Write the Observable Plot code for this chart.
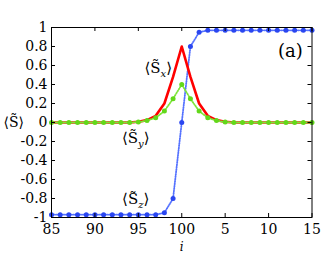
<!DOCTYPE html>
<html><head><meta charset="utf-8">
<script src="https://cdn.jsdelivr.net/npm/d3@7"></script>
<script src="https://cdn.jsdelivr.net/npm/@observablehq/plot@0.6"></script>
<style>body{margin:0;background:#fff}</style>
</head><body><div id="chart"></div>
<script>
const sites = d3.range(85, 116);
const sz = [-0.97,-0.97,-0.97,-0.97,-0.97,-0.97,-0.97,-0.97,-0.97,-0.97,-0.97,-0.97,-0.97,-0.95,-0.8,0,0.8,0.95,0.97,0.97,0.97,0.97,0.97,0.97,0.97,0.97,0.97,0.97,0.97,0.97,0.97];
const sx = [0,0,0,0,0,0,0,0,0,0,0.008,0.025,0.07,0.2,0.48,0.8,0.48,0.2,0.07,0.025,0.008,0,0,0,0,0,0,0,0,0,0];
const sy = [0,0,0,0,0,0,0,0,0,0,0.005,0.02,0.05,0.12,0.25,0.4,0.25,0.12,0.05,0.02,0.005,0,0,0,0,0,0,0,0,0,0];
const xTicks = [85, 90, 95, 100, 105, 110, 115];
const yTicks = [-1,-0.8,-0.6,-0.4,-0.2,0,0.2,0.4,0.6,0.8,1];
const labels = [
  {x: 97.3, y: 0.57, t: "⟨S̃x⟩"},
  {x: 94.7, y: -0.16, t: "⟨S̃y⟩"},
  {x: 94.7, y: -0.81, t: "⟨S̃z⟩"}
];
const panel = [{x: 112.5, y: 0.75, t: "(a)"}];

const rows = (vals) => sites.map((s, k) => ({i: s, v: vals[k]}));
const font = "DejaVu Serif";
const W = 327, H = 253, mT = 27, mB = 36, mL = 51, mR = 15.5;
const ph = H - mT - mB, pw = W - mL - mR;

const plot = Plot.plot({
  width: W, height: H,
  marginTop: mT, marginBottom: mB, marginLeft: mL, marginRight: mR,
  style: {fontSize: "14px", color: "black", background: "white", fontFamily: font},
  x: {domain: [85, 115]},
  y: {domain: [-1, 1]},
  marks: [
    Plot.line(rows(sz), {x: "i", y: "v", stroke: "#5572ff", strokeWidth: 1.8, strokeDasharray: "1,1.4"}),
    Plot.dot(rows(sz), {x: "i", y: "v", fill: "#2a46f0", r: 2.5}),
    Plot.line(rows(sx), {x: "i", y: "v", stroke: "#ff0000", strokeWidth: 2.6}),
    Plot.line(rows(sy), {x: "i", y: "v", stroke: "#7ee63a", strokeWidth: 1.8, strokeDasharray: "1,1.4"}),
    Plot.dot(rows(sy), {x: "i", y: "v", fill: "#62d81a", r: 2.5}),
    Plot.frame({stroke: "black", strokeWidth: 1}),
    Plot.tickX(xTicks, {x: d => d, insetTop: ph - 4, stroke: "black"}),
    Plot.tickX(xTicks, {x: d => d, insetBottom: ph - 4, stroke: "black"}),
    Plot.tickY(yTicks, {y: d => d, insetRight: pw - 4, stroke: "black"}),
    Plot.tickY(yTicks, {y: d => d, insetLeft: pw - 4, stroke: "black"}),
    Plot.axisX(xTicks, {tickSize: 0, tickPadding: 7, tickFormat: d => d > 100 ? String(d - 100) : String(d), fontSize: 14, fontFamily: font, label: null}),
    Plot.axisY(yTicks, {tickSize: 0, tickPadding: 4, tickFormat: d => String(d), fontSize: 14, fontFamily: font, label: null}),
    Plot.text(labels, {x: "x", y: "y", text: "t", fontSize: 15, fontFamily: font, fill: "black"}),
    Plot.text(panel, {x: "x", y: "y", text: "t", fontSize: 18, fontFamily: font, fill: "black"}),
    Plot.text(["i"], {frameAnchor: "bottom", dy: 33, lineAnchor: "bottom", text: d => d, fontStyle: "italic", fontFamily: font, fontSize: 12, fill: "black"}),
    Plot.text(["⟨S̃⟩"], {frameAnchor: "left", dx: -48, textAnchor: "start", text: d => d, fontSize: 14, fontFamily: font, fill: "black"})
  ]
});
const svg = d3.select(plot);
svg.selectAll("text").each(function() {
  const el = d3.select(this);
  const s = el.text();
  const m = s.match(/^⟨S̃([xyz])⟩$/);
  if (m) {
    el.text(null);
    el.append("tspan").text("⟨S̃");
    el.append("tspan").attr("font-style", "italic").attr("font-size", "10px").attr("dy", "4").text(m[1]);
    el.append("tspan").attr("dy", "-4").text("⟩");
  }
});
document.getElementById("chart").append(plot);
</script></body></html>
